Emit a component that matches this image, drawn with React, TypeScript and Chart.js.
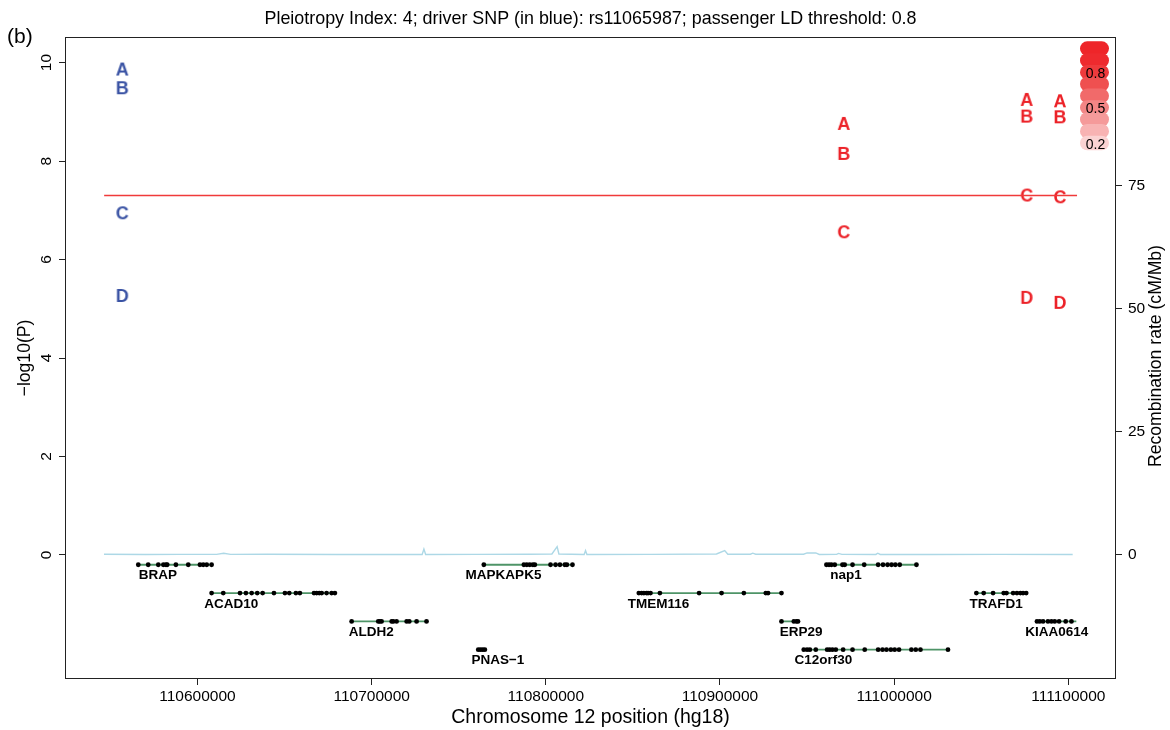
import React, { useEffect, useRef } from 'react';
import { Chart, registerables } from 'chart.js';

Chart.register(...registerables);

const FONT = '"Liberation Sans", Arial, Helvetica, sans-serif';

// ---- axes ----
const X_MIN = 110524500;
const X_MAX = 111126800;
const X_TICKS = [110600000, 110700000, 110800000, 110900000, 111000000, 111100000];
const Y_MIN = -2.5;
const Y_MAX = 10.5;
const Y_TICKS = [0, 2, 4, 6, 8, 10];
const RECOMB_MIN = -25;
const RECOMB_MAX = 105;
const RECOMB_TICKS = [0, 25, 50, 75];

// ---- texts ----
const TITLE = 'Pleiotropy Index: 4; driver SNP (in blue): rs11065987; passenger LD threshold: 0.8';
const PANEL_LABEL = '(b)';
const X_TITLE = 'Chromosome 12 position (hg18)';
const Y_TITLE = '\u2212log10(P)';
const Y2_TITLE = 'Recombination rate (cM/Mb)';

// ---- SNP associations (-log10 P) for phenotypes A..D ----
const PHENOTYPES = ['A', 'B', 'C', 'D'];
const DRIVER_POS = 110556807;
const DRIVER_LOGP = [9.86, 9.48, 6.94, 5.26];
const PASSENGER_POS = [110971062, 111076101, 111095220];
const PASSENGER_A = [8.755, 9.243, 9.214];
const PASSENGER_B = [8.146, 8.904, 8.89];
const PASSENGER_C = [6.554, 7.3, 7.265];
const PASSENGER_D = [null, 5.222, 5.12];

// ---- genome-wide significance line ----
const GWS_LOGP = 7.3;
const GWS_FROM = 110546400;
const GWS_TO = 111105000;

// ---- recombination rate (cM/Mb) ----
const RECOMB_POS = [110546300, 110570000, 110590000, 110611000, 110615000, 110619000, 110640000, 110680000, 110705000,
  110729000, 110730000, 110731000, 110760000, 110790000, 110803500, 110806500, 110807500, 110822000, 110822800,
  110823600, 110860000, 110898000, 110902700, 110904500, 110917500, 110918800, 110920500, 110948000, 110950000,
  110955000, 110957000, 110967000, 110968000, 110970000, 110989500, 110990600, 110992000, 111020000, 111060000, 111102500];
const RECOMB_RATE = [0.15, 0.1, 0.12, 0.12, 0.35, 0.12, 0.15, 0.1, 0.08,
  0.1, 1.2, 0.1, 0.12, 0.15, 0.2, 1.7, 0.2, 0.1, 0.9,
  0.1, 0.12, 0.2, 0.9, 0.15, 0.15, 0.35, 0.15, 0.15, 0.4,
  0.4, 0.1, 0.12, 0.3, 0.12, 0.1, 0.35, 0.1, 0.1, 0.12, 0.1];

// ---- gene track ----
const GENE_NAMES = ['BRAP', 'ACAD10', 'ALDH2', 'MAPKAPK5', 'PNAS\u22121', 'TMEM116', 'ERP29', 'nap1', 'C12orf30', 'TRAFD1', 'KIAA0614'];
const GENE_ROW = [0, 1, 2, 0, 3, 1, 2, 0, 3, 1, 2];
const ROW_Y = [-0.2, -0.775, -1.35, -1.925];
const GENE_START = [110566000, 110608100, 110688500, 110764400, 110761200, 110853400, 110935300, 110961100, 110948100, 111047200, 111082000];
const GENE_END = [110608100, 110678900, 110732500, 110815300, 110765000, 110935300, 110945400, 111012800, 111030900, 111075800, 111104600];
const GENE_EXONS = [
  [110566000, 110571700, 110577500, 110580400, 110581900, 110582600, 110587600, 110594700, 110601400, 110603300, 110605300, 110608100],
  [110608100, 110614800, 110624400, 110627800, 110631100, 110634300, 110637400, 110643900, 110650200, 110652700, 110656500, 110658800, 110666900, 110668400, 110669900, 110671300, 110674100, 110677000, 110678900],
  [110688500, 110703800, 110704700, 110705700, 110711500, 110712400, 110714300, 110720100, 110721600, 110725800, 110731500],
  [110764400, 110787400, 110789100, 110790800, 110792600, 110793700, 110802700, 110805600, 110808100, 110810900, 110812100, 110815300],
  [110761200, 110762500, 110763800, 110765000],
  [110853400, 110855000, 110856300, 110857800, 110858700, 110860100, 110865500, 110888000, 110900900, 110913700, 110926300, 110927600, 110935300],
  [110935300, 110942400, 110943900, 110944800],
  [110961100, 110962600, 110964000, 110965900, 110970300, 110971600, 110976100, 110982800, 110990800, 110993600, 110996200, 110998500, 111000700, 111003200, 111012800],
  [110948100, 110950000, 110951600, 110955000, 110961500, 110963000, 110964600, 110966500, 110970700, 110976100, 110983100, 110990800, 110993300, 110995600, 110998100, 111000300, 111002800, 111009900, 111012400, 111015100, 111030900],
  [111047200, 111051400, 111056800, 111062900, 111064500, 111068300, 111070500, 111072500, 111074000, 111075800],
  [111082000, 111083600, 111085500, 111088300, 111090300, 111092200, 111094700, 111098500, 111101800],
];
const LABEL_SHIFT_BP = 11300;

// ---- LD legend ----
const LD_LEVELS = [1.0, 0.9, 0.8, 0.7, 0.6, 0.5, 0.4, 0.3, 0.2];
const LD_COLORS = ['#EE2529', '#EE2A2E', '#EE3A3C', '#EF5050', '#F16A6A', '#F38585', '#F59A9A', '#F8B3B3', '#FBD2D2'];
const LD_LABELED = ['0.8', '0.5', '0.2'];

const BLUE = '#3A53A4';
const RED = '#EC2228';
const GWS_COLOR = '#F03A3A';
const RECOMB_COLOR = '#ADD8E6';
const GENE_COLOR = '#4E9467';

function letterCanvas(ch: string, color: string): HTMLCanvasElement {
  const c = document.createElement('canvas');
  c.width = 24;
  c.height = 24;
  const g = c.getContext('2d')!;
  g.font = `bold 18px ${FONT}`;
  g.fillStyle = color;
  g.textAlign = 'center';
  g.textBaseline = 'alphabetic';
  g.fillText(ch, 12, 12 + (18 * 0.716) / 2);
  return c;
}

function lineDataset(label: string, data: { x: number; y: number }[], color: string, width: number, axis: string) {
  return {
    type: 'line',
    label,
    data,
    borderColor: color,
    backgroundColor: color,
    borderWidth: width,
    pointRadius: 0,
    pointHoverRadius: 0,
    fill: false,
    tension: 0,
    yAxisID: axis,
  };
}

export default function App() {
  const ref = useRef<HTMLCanvasElement | null>(null);

  useEffect(() => {
    const canvas = ref.current;
    if (!canvas) return;

    const driverData = DRIVER_LOGP.map((y) => ({ x: DRIVER_POS, y }));
    const driverStyles = PHENOTYPES.map((p) => letterCanvas(p, BLUE));

    const passengerCols = [PASSENGER_A, PASSENGER_B, PASSENGER_C, PASSENGER_D];
    const passengerData: { x: number; y: number }[] = [];
    const passengerStyles: HTMLCanvasElement[] = [];
    PASSENGER_POS.forEach((pos, j) => {
      passengerCols.forEach((col, i) => {
        const v = col[j];
        if (v !== null && v !== undefined) {
          passengerData.push({ x: pos, y: v });
          passengerStyles.push(letterCanvas(PHENOTYPES[i], RED));
        }
      });
    });

    const exonData: { x: number; y: number }[] = [];
    GENE_EXONS.forEach((ex, g) => ex.forEach((x) => exonData.push({ x, y: ROW_Y[GENE_ROW[g]] })));

    const geneLines = GENE_NAMES.map((name, g) =>
      lineDataset(
        name,
        [
          { x: GENE_START[g], y: ROW_Y[GENE_ROW[g]] },
          { x: GENE_END[g], y: ROW_Y[GENE_ROW[g]] },
        ],
        GENE_COLOR,
        1.8,
        'y'
      )
    );

    const decorPlugin = {
      id: 'decor',
      afterDatasetsDraw(chart: any) {
        const { ctx, chartArea, scales } = chart;
        const xs = scales.x;
        const ys = scales.y;
        ctx.save();
        // gene labels
        ctx.fillStyle = '#000';
        ctx.font = `bold 13.5px ${FONT}`;
        ctx.textAlign = 'center';
        ctx.textBaseline = 'middle';
        GENE_NAMES.forEach((name, g) => {
          const px = xs.getPixelForValue(GENE_START[g] + LABEL_SHIFT_BP);
          const py = ys.getPixelForValue(ROW_Y[GENE_ROW[g]]) + 11;
          ctx.fillText(name, px, py);
        });
        // LD legend
        const cx = chartArea.right - 20.5;
        const y0 = chartArea.top + 10.6;
        const step = 11.8;
        const w = 29;
        const h = 14.5;
        LD_LEVELS.forEach((lvl, i) => {
          const cy = y0 + i * step;
          ctx.fillStyle = LD_COLORS[i];
          ctx.beginPath();
          (ctx as any).roundRect(cx - w / 2, cy - h / 2, w, h, h / 2);
          ctx.fill();
        });
        ctx.fillStyle = '#000';
        ctx.font = `14px ${FONT}`;
        ctx.textAlign = 'center';
        ctx.textBaseline = 'middle';
        LD_LEVELS.forEach((lvl, i) => {
          const s = lvl.toFixed(1);
          if (LD_LABELED.includes(s)) ctx.fillText(s, cx + 1, y0 + i * step + 2);
        });
        ctx.restore();
      },
      afterDraw(chart: any) {
        const { ctx, chartArea } = chart;
        ctx.save();
        ctx.strokeStyle = '#222';
        ctx.lineWidth = 1;
        ctx.strokeRect(chartArea.left - 0.5, chartArea.top - 0.5, chartArea.right - chartArea.left + 1, chartArea.bottom - chartArea.top + 1);
        ctx.fillStyle = '#000';
        // title
        ctx.font = `17.9px ${FONT}`;
        ctx.textAlign = 'center';
        ctx.textBaseline = 'alphabetic';
        ctx.fillText(TITLE, (chartArea.left + chartArea.right) / 2, 24);
        // panel label
        ctx.font = `21px ${FONT}`;
        ctx.textAlign = 'left';
        ctx.fillText(PANEL_LABEL, 7, 43);
        // x title
        ctx.font = `19.5px ${FONT}`;
        ctx.textAlign = 'center';
        ctx.fillText(X_TITLE, (chartArea.left + chartArea.right) / 2, 722.5);
        // y titles (rotated, reading upward)
        const midY = (chartArea.top + chartArea.bottom) / 2;
        ctx.font = `17.6px ${FONT}`;
        ctx.save();
        ctx.translate(29.6, midY);
        ctx.rotate(-Math.PI / 2);
        ctx.fillText(Y_TITLE, 0, 0);
        ctx.restore();
        ctx.save();
        ctx.translate(1161.3, midY - 2);
        ctx.rotate(-Math.PI / 2);
        ctx.fillText(Y2_TITLE, 0, 0);
        ctx.restore();
        ctx.restore();
      },
    };

    const tickFont = { family: FONT, size: 15.5 };
    const gridOpts = { drawOnChartArea: false, drawTicks: true, tickLength: 7, color: '#222', lineWidth: 1 };

    const chart = new Chart(canvas, {
      type: 'scatter',
      data: {
        datasets: [
          lineDataset('GWS', [
            { x: GWS_FROM, y: GWS_LOGP },
            { x: GWS_TO, y: GWS_LOGP },
          ], GWS_COLOR, 1.5, 'y'),
          {
            type: 'scatter',
            label: 'driver',
            data: driverData,
            pointStyle: (c: any) => driverStyles[c.dataIndex],
            pointRadius: 4,
            yAxisID: 'y',
          },
          {
            type: 'scatter',
            label: 'passenger',
            data: passengerData,
            pointStyle: (c: any) => passengerStyles[c.dataIndex],
            pointRadius: 4,
            yAxisID: 'y',
          },
          {
            type: 'scatter',
            label: 'exons',
            data: exonData,
            pointStyle: 'circle',
            pointRadius: 2.4,
            pointBackgroundColor: '#000',
            pointBorderColor: '#000',
            pointBorderWidth: 0,
            yAxisID: 'y',
          },
          ...geneLines,
          lineDataset('recomb', RECOMB_POS.map((x, i) => ({ x, y: RECOMB_RATE[i] })), RECOMB_COLOR, 1.4, 'y2'),
        ] as any,
      },
      options: {
        responsive: false,
        maintainAspectRatio: false,
        animation: false,
        events: [],
        layout: { padding: { top: 38, left: 0, right: 0, bottom: 0 } },
        plugins: { legend: { display: false }, tooltip: { enabled: false }, title: { display: false } },
        scales: {
          x: {
            type: 'linear',
            position: 'bottom',
            min: X_MIN,
            max: X_MAX,
            afterBuildTicks: (s: any) => {
              s.ticks = X_TICKS.map((v) => ({ value: v }));
            },
            afterFit: (s: any) => {
              s.height = 52;
            },
            ticks: {
              callback: (v: any) => String(v),
              font: tickFont,
              color: '#000',
              maxRotation: 0,
              minRotation: 0,
              autoSkip: false,
              padding: 2,
            },
            grid: gridOpts,
            border: { display: false },
          },
          y: {
            type: 'linear',
            position: 'left',
            min: Y_MIN,
            max: Y_MAX,
            afterBuildTicks: (s: any) => {
              s.ticks = Y_TICKS.map((v) => ({ value: v }));
            },
            afterFit: (s: any) => {
              s.width = 66;
            },
            ticks: {
              font: tickFont,
              color: '#000',
              minRotation: 90,
              maxRotation: 90,
              crossAlign: 'center',
              autoSkip: false,
              padding: 4,
            },
            grid: gridOpts,
            border: { display: false },
          },
          y2: {
            type: 'linear',
            position: 'right',
            min: RECOMB_MIN,
            max: RECOMB_MAX,
            afterBuildTicks: (s: any) => {
              s.ticks = RECOMB_TICKS.map((v) => ({ value: v }));
            },
            afterFit: (s: any) => {
              s.width = 55;
            },
            ticks: {
              font: tickFont,
              color: '#000',
              autoSkip: false,
              padding: 6,
            },
            grid: gridOpts,
            border: { display: false },
          },
        },
      } as any,
      plugins: [decorPlugin],
    });

    return () => chart.destroy();
  }, []);

  return (
    <div style={{ position: 'fixed', left: 0, top: 0, width: 1170, height: 730, background: '#fff' }}>
      <canvas ref={ref} width={1170} height={730} style={{ display: 'block', width: 1170, height: 730 }} />
    </div>
  );
}
